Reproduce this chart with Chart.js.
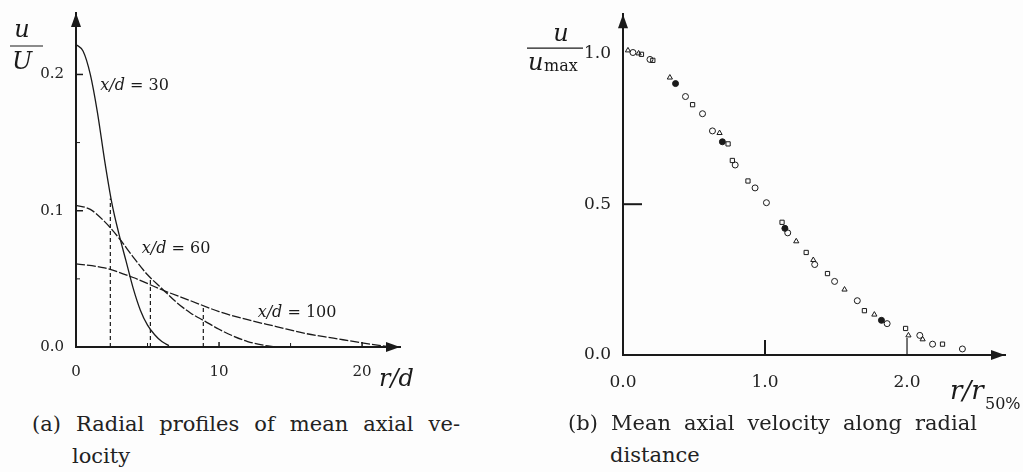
<!DOCTYPE html>
<html>
<head>
<meta charset="utf-8">
<script src="https://cdn.jsdelivr.net/npm/chart.js@4.4.0/dist/chart.umd.min.js"></script>
<style>
  body { margin: 0; background: #fdfdfd; width: 1023px; height: 472px; overflow: hidden; position: relative; font-family: "DejaVu Serif", serif; color: #222; }
  canvas { position: absolute; top: 0; }
  #perfilesChart { left: 0; width: 420px; height: 390px; }
  #similitudChart { left: 500px; width: 523px; height: 410px; }
  .leyenda { position: absolute; font-size: 21px; line-height: 32px; white-space: nowrap; }
  .just { text-align: justify; text-align-last: justify; }
</style>
</head>
<body>
<canvas id="perfilesChart" width="420" height="390"></canvas>
<canvas id="similitudChart" width="523" height="410"></canvas>

<div class="leyenda just" style="left:32px; top:408px; width:428px;">(a) Radial profiles of mean axial ve-</div>
<div class="leyenda" style="left:72px; top:440px;">locity</div>
<div class="leyenda just" style="left:568px; top:407px; width:409px;">(b) Mean axial velocity along radial</div>
<div class="leyenda" style="left:610px; top:439px;">distance</div>

<script>
// Perfiles radiales de u/U para cada estación x/d
const radio30 = [0, 0.5, 1, 1.5, 2, 2.5, 3, 3.5, 4, 4.5, 5, 5.5, 6, 6.5];
const velocidad30 = [0.222, 0.217, 0.200, 0.172, 0.137, 0.106, 0.083, 0.063, 0.043, 0.027, 0.016, 0.009, 0.004, 0.001];
const radio60 = [0, 1, 2, 3, 4, 5, 6, 7, 8, 9, 10, 11, 12, 13, 14];
const velocidad60 = [0.104, 0.101, 0.092, 0.080, 0.066, 0.053, 0.043, 0.033, 0.025, 0.019, 0.013, 0.008, 0.004, 0.0015, 0.0];
const radio100 = [0, 2, 4, 6, 8, 10, 12, 14, 16, 18, 20, 22];
const velocidad100 = [0.061, 0.058, 0.051, 0.042, 0.034, 0.026, 0.020, 0.015, 0.010, 0.0065, 0.003, 0.0];
const etiquetasPerfil = ['x/d = 30', 'x/d = 60', 'x/d = 100'];

// Radio donde la velocidad cae a la mitad del valor en el eje
const radioMitad = [2.4, 5.2, 8.9];
const velocidadMitad = [0.109, 0.051, 0.029];

// Marcas de los ejes (panel a)
const marcasRadio = [0, 5, 10, 15, 20];
const marcasVelocidad = [0, 0.05, 0.1, 0.15, 0.2];

// Perfil adimensional u/umax frente a r/r50% (panel b)
const circulosR = [0.07, 0.19, 0.44, 0.56, 0.63, 0.79, 0.93, 1.01, 1.16, 1.35, 1.49, 1.65, 1.86, 2.09, 2.18, 2.39];
const circulosU = [1.003, 0.98, 0.857, 0.80, 0.743, 0.63, 0.554, 0.505, 0.405, 0.30, 0.244, 0.18, 0.104, 0.065, 0.036, 0.02];
const cuadradosR = [0.13, 0.21, 0.49, 0.74, 0.77, 0.88, 1.12, 1.29, 1.44, 1.70, 1.99, 2.25];
const cuadradosU = [0.997, 0.977, 0.83, 0.70, 0.645, 0.577, 0.44, 0.34, 0.27, 0.147, 0.088, 0.036];
const triangulosR = [0.035, 0.11, 0.33, 0.68, 1.22, 1.34, 1.56, 1.77, 2.01, 2.11];
const triangulosU = [1.01, 1.0, 0.92, 0.736, 0.377, 0.315, 0.217, 0.134, 0.065, 0.052];
const llenosR = [0.37, 0.70, 1.14, 1.82];
const llenosU = [0.90, 0.707, 0.42, 0.115];

const marcasRadioNorm = [0, 1, 2];
const marcasVelocidadNorm = [0, 0.5, 1];

const TINTA = '#1a1a1a';
const SERIF = '"DejaVu Serif"';

function puntos(xs, ys) {
    return xs.map((x, i) => ({ x: x, y: ys[i] }));
}

// Ejes con flechas, marcas hacia dentro y títulos de los ejes
const ejesConFlechas = {
    id: 'ejesConFlechas',
    afterDraw(chart, args, opts) {
        const { ctx, chartArea: a, scales: { x, y } } = chart;
        ctx.save();
        ctx.strokeStyle = TINTA;
        ctx.fillStyle = TINTA;

        opts.marcasY.forEach(([v, largo, grosor]) => {
            const py = y.getPixelForValue(v);
            ctx.lineWidth = grosor;
            ctx.beginPath();
            ctx.moveTo(a.left, py);
            ctx.lineTo(a.left + largo, py);
            ctx.stroke();
        });
        opts.marcasX.forEach(([v, largo, grosor]) => {
            const px = x.getPixelForValue(v);
            ctx.lineWidth = grosor;
            ctx.beginPath();
            ctx.moveTo(px, a.bottom);
            ctx.lineTo(px, a.bottom - largo);
            ctx.stroke();
        });

        // flecha vertical
        ctx.beginPath();
        ctx.moveTo(a.left, a.top);
        ctx.lineTo(a.left - 5, a.top + 14);
        ctx.lineTo(a.left + 5, a.top + 14);
        ctx.closePath();
        ctx.fill();
        // flecha horizontal
        if (opts.flechaX) {
            ctx.beginPath();
            ctx.moveTo(a.right, a.bottom);
            ctx.lineTo(a.right - 14, a.bottom - 5);
            ctx.lineTo(a.right - 14, a.bottom + 5);
            ctx.closePath();
            ctx.fill();
        }

        opts.textos.forEach(t => {
            ctx.font = t.fuente;
            ctx.textAlign = t.alinear || 'left';
            ctx.textBaseline = 'alphabetic';
            ctx.fillText(t.texto, a.left + t.dx, a.top + t.dy);
        });
        opts.rayas.forEach(r => {
            ctx.lineWidth = 1.2;
            ctx.beginPath();
            ctx.moveTo(a.left + r[0], a.top + r[2]);
            ctx.lineTo(a.left + r[1], a.top + r[2]);
            ctx.stroke();
        });

        // rótulos x/d sobre las curvas
        if (opts.rotulos) {
            opts.rotulos.forEach((rot, i) => {
                const px = x.getPixelForValue(rot[0]);
                const py = y.getPixelForValue(rot[1]);
                ctx.textAlign = 'left';
                ctx.textBaseline = 'middle';
                ctx.font = 'italic 16px ' + SERIF;
                ctx.fillText('x/d', px, py);
                const w = ctx.measureText('x/d ').width;
                ctx.font = '16px ' + SERIF;
                ctx.fillText(etiquetasPerfil[i].slice(4), px + w, py);
            });
        }
        ctx.restore();
    }
};

function escalas(cfg) {
    const fuente = { family: 'DejaVu Serif', size: cfg.tamTicks };
    return {
        x: {
            type: 'linear', min: 0, max: cfg.xMax,
            grid: { display: false },
            border: { color: TINTA, width: 2 },
            ticks: { padding: cfg.padX, font: fuente, color: '#222', maxRotation: 0, autoSkip: false, callback: cfg.etiquetaX },
            afterBuildTicks: s => { s.ticks = cfg.marcasX.map(v => ({ value: v })); },
            afterFit: s => { s.height = cfg.altoX; }
        },
        y: {
            type: 'linear', min: 0, max: cfg.yMax,
            grid: { display: false },
            border: { color: TINTA, width: 2 },
            ticks: { padding: 4, font: fuente, color: '#222', autoSkip: false, callback: cfg.etiquetaY },
            afterBuildTicks: s => { s.ticks = cfg.marcasY.map(v => ({ value: v })); },
            afterFit: s => { s.width = cfg.anchoY; }
        }
    };
}

function dibujarPerfiles() {
    const curva = (xs, ys, trazo) => ({
        data: puntos(xs, ys), showLine: true, borderColor: TINTA, borderWidth: 1.3,
        borderDash: trazo, pointRadius: 0, cubicInterpolationMode: 'monotone', fill: false
    });
    const mitades = radioMitad.map((r, i) => ({
        data: [{ x: r, y: 0 }, { x: r, y: velocidadMitad[i] }], showLine: true,
        borderColor: TINTA, borderWidth: 1.2, borderDash: [4, 3], pointRadius: 0
    }));

    const ctx = document.getElementById('perfilesChart').getContext('2d');
    new Chart(ctx, {
        type: 'scatter',
        data: {
            datasets: [
                curva(radio30, velocidad30, []),
                curva(radio60, velocidad60, [9, 2]),
                curva(radio100, velocidad100, [9, 2]),
                ...mitades
            ]
        },
        options: {
            responsive: false, animation: false, devicePixelRatio: 1,
            layout: { padding: { top: 10, right: 20, left: 0, bottom: 0 } },
            plugins: {
                legend: { display: false }, tooltip: { enabled: false },
                ejesConFlechas: {
                    marcasY: [[0.05, 4, 1], [0.1, 7, 1.5], [0.15, 4, 1], [0.2, 7, 1.5]],
                    marcasX: [[5, 4, 1], [10, 5, 1.5], [15, 4, 1], [20, 5, 1.5]],
                    flechaX: true,
                    textos: [
                        { texto: 'u', fuente: 'italic 24px ' + SERIF, dx: -54, dy: 24, alinear: 'center' },
                        { texto: 'U', fuente: 'italic 24px ' + SERIF, dx: -54, dy: 56, alinear: 'center' },
                        { texto: 'r/d', fuente: 'italic 24px ' + SERIF, dx: 303, dy: 373 }
                    ],
                    rayas: [[-66, -33, 33]],
                    rotulos: [[1.7, 0.192], [4.6, 0.072], [12.7, 0.0247]]
                }
            },
            scales: escalas({
                xMax: 22.65, yMax: 0.2451, padX: 8, altoX: 43, anchoY: 76, tamTicks: 15,
                marcasX: marcasRadio, marcasY: marcasVelocidad,
                etiquetaX: v => (v % 10 === 0 ? String(v) : ''),
                etiquetaY: v => (Math.abs(v * 10 - Math.round(v * 10)) < 1e-6 ? v.toFixed(1) : '')
            })
        },
        plugins: [ejesConFlechas]
    });
}

function dibujarSimilitud() {
    const serie = (xs, ys, estilo, relleno) => ({
        data: puntos(xs, ys), pointStyle: estilo, pointRadius: 3,
        pointBorderColor: TINTA, pointBorderWidth: 1,
        pointBackgroundColor: relleno ? TINTA : 'rgba(0,0,0,0)'
    });

    const ctx = document.getElementById('similitudChart').getContext('2d');
    new Chart(ctx, {
        type: 'scatter',
        data: {
            datasets: [
                serie(circulosR, circulosU, 'circle', false),
                serie(cuadradosR, cuadradosU, 'rect', false),
                serie(triangulosR, triangulosU, 'triangle', false),
                serie(llenosR, llenosU, 'circle', true)
            ]
        },
        options: {
            responsive: false, animation: false, devicePixelRatio: 1,
            layout: { padding: { top: 8, right: 18, left: 0, bottom: 0 } },
            plugins: {
                legend: { display: false }, tooltip: { enabled: false },
                ejesConFlechas: {
                    marcasY: [[0.5, 19, 2]],
                    marcasX: [[1, 15, 2], [2, 17, 1.2]],
                    flechaX: true,
                    textos: [
                        { texto: 'u', fuente: 'italic 24px ' + SERIF, dx: -62, dy: 27, alinear: 'center' },
                        { texto: 'u', fuente: 'italic 24px ' + SERIF, dx: -95, dy: 56 },
                        { texto: 'max', fuente: '16px ' + SERIF, dx: -79, dy: 57 },
                        { texto: 'r/r', fuente: 'italic 26px ' + SERIF, dx: 327, dy: 385 },
                        { texto: '50%', fuente: '16px ' + SERIF, dx: 362, dy: 395 }
                    ],
                    rayas: [[-96, -40, 34]]
                }
            },
            scales: escalas({
                xMax: 2.69, yMax: 1.130, padX: 9, altoX: 55, anchoY: 123, tamTicks: 17,
                marcasX: marcasRadioNorm, marcasY: marcasVelocidadNorm,
                etiquetaX: v => v.toFixed(1),
                etiquetaY: v => v.toFixed(1)
            })
        },
        plugins: [ejesConFlechas]
    });
}

dibujarPerfiles();
dibujarSimilitud();
</script>
</body>
</html>
